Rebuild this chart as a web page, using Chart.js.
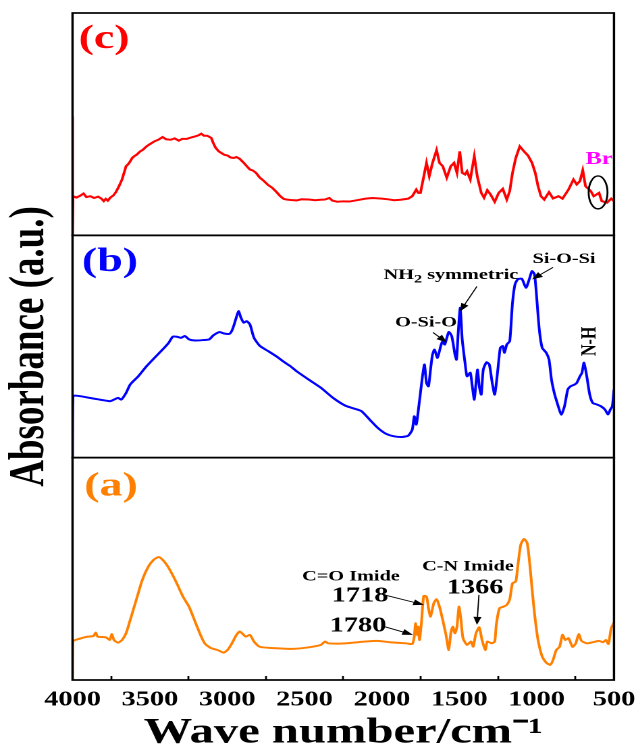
<!DOCTYPE html>
<html>
<head>
<meta charset="utf-8">
<title>FTIR spectra</title>
<script src="https://cdn.jsdelivr.net/npm/chart.js@4.4.1/dist/chart.umd.min.js"></script>
<style>
  html, body { margin: 0; padding: 0; background: #fff; }
  /* the source figure is stretched sideways, so the chart is drawn narrow and widened */
  #wrap { width: 471px; height: 750px; transform: scaleX(1.3503); transform-origin: 0 0; }
</style>
</head>
<body>
<div id="wrap"><canvas id="ftir" width="471" height="750"></canvas></div>
<script>
// tick labels on the wave number axis
var majorTicks = [4000, 3500, 3000, 2500, 2000, 1500, 1000, 500];
var panelLabels = ['(a)', '(b)', '(c)'];

// (a) - orange spectrum
var wnA = [4000, 3998, 3942, 3903, 3864, 3850, 3837, 3785, 3759, 3746, 3732, 3706, 3680, 3654, 3627, 3588,
  3549, 3509, 3475, 3444, 3418, 3391, 3365, 3326, 3286, 3247, 3208, 3168, 3142, 3103, 3063, 3024, 2998,
  2972, 2940, 2919, 2898, 2880, 2853, 2827, 2788, 2683, 2578, 2473, 2394, 2368, 2347, 2237, 2106, 2027,
  1948, 1843, 1804, 1791, 1783, 1772, 1765, 1757, 1744, 1730, 1712, 1699, 1686, 1665, 1647, 1628, 1607,
  1586, 1568, 1555, 1542, 1528, 1515, 1502, 1489, 1476, 1450, 1424, 1410, 1392, 1371, 1353, 1332, 1319,
  1292, 1271, 1261, 1240, 1214, 1193, 1174, 1156, 1135, 1122, 1103, 1082, 1061, 1043, 1025, 1009, 991,
  964, 938, 912, 894, 873, 852, 833, 815, 794, 768, 747, 728, 710, 676, 637, 597, 571, 552, 536, 518, 500];
var absA = [0, 17.3, 18.8, 19.5, 19.8, 21.3, 19.5, 19.2, 18.0, 20.7, 18.0, 16.8, 18.0, 21.0, 27.0, 36.0,
  45.0, 51.1, 54.1, 55.3, 54.1, 51.8, 48.8, 43.5, 37.5, 33.0, 26.3, 19.5, 16.2, 14.3, 13.5, 12.3, 13.5,
  16.2, 20.3, 21.8, 20.6, 19.5, 20.3, 17.3, 14.9, 14.3, 14.0, 14.7, 15.8, 17.3, 16.5, 16.5, 17.3, 17.6,
  17.0, 16.5, 16.2, 19.5, 25.5, 20.3, 24.0, 18.0, 26.3, 37.8, 37.5, 32.3, 28.5, 34.5, 36.3, 33.0, 27.0,
  20.3, 13.5, 21.0, 24.0, 21.0, 24.0, 33.0, 27.0, 18.8, 15.8, 17.3, 15.0, 21.0, 23.7, 18.0, 13.5, 17.3,
  16.5, 17.3, 24.8, 32.3, 33.0, 33.8, 36.3, 43.5, 44.3, 51.1, 60.8, 63.4, 61.6, 51.1, 37.5, 27.0, 18.0,
  10.5, 7.8, 6.8, 9.0, 13.5, 14.9, 20.3, 18.0, 18.8, 14.9, 16.5, 20.6, 17.6, 16.5, 17.0, 17.6, 17.0, 18.0, 16.2, 23.3, 25.8];

// (b) - blue spectrum
var wnB = [4000, 3997, 3890, 3759, 3732, 3706, 3685, 3654, 3627, 3575, 3522, 3470, 3418, 3378, 3352, 3326,
  3299, 3273, 3247, 3208, 3155, 3116, 3090, 3050, 3024, 2985, 2966, 2945, 2927, 2911, 2893, 2874, 2853,
  2827, 2788, 2735, 2683, 2630, 2591, 2552, 2473, 2394, 2316, 2237, 2171, 2132, 2079, 2027, 1975, 1922,
  1870, 1830, 1804, 1791, 1778, 1759, 1738, 1725, 1712, 1699, 1686, 1673, 1660, 1641, 1620, 1607, 1594,
  1568, 1549, 1528, 1518, 1507, 1494, 1481, 1463, 1450, 1429, 1416, 1403, 1392, 1382, 1371, 1358, 1345,
  1324, 1306, 1287, 1271, 1253, 1235, 1219, 1208, 1193, 1174, 1156, 1140, 1122, 1096, 1069, 1048, 1030,
  1014, 1004, 983, 964, 938, 920, 904, 886, 867, 841, 820, 799, 781, 755, 741, 720, 707, 694, 676, 657,
  637, 610, 584, 558, 539, 524, 511, 500];
var absB = [0, 27.6, 26.9, 25.4, 26.1, 26.9, 26.1, 29.1, 32.9, 36.6, 41.1, 44.9, 48.6, 51.7, 54.4, 54.4,
  53.9, 54.7, 53.2, 52.7, 52.9, 53.2, 55.0, 56.5, 55.9, 55.7, 57.7, 62.2, 65.9, 62.9, 60.7, 61.4, 59.9,
  53.9, 50.2, 47.9, 45.6, 42.9, 41.1, 38.9, 35.1, 31.4, 26.9, 23.4, 21.9, 20.9, 17.1, 13.4, 10.8, 9.6,
  9.3, 9.9, 12.6, 18.6, 14.9, 24.6, 36.6, 41.9, 33.6, 32.1, 39.6, 46.4, 48.6, 44.9, 50.2, 52.4, 50.9,
  56.5, 54.7, 46.4, 44.1, 56.2, 67.4, 53.2, 42.7, 36.6, 38.2, 32.1, 26.1, 33.6, 39.6, 32.1, 28.4, 39.6,
  42.9, 41.9, 33.6, 28.4, 38.2, 49.4, 50.2, 47.2, 50.9, 52.4, 69.7, 77.9, 80.2, 80.5, 76.4, 80.2, 83.9,
  82.4, 75.7, 57.7, 49.4, 47.2, 44.1, 35.1, 29.1, 24.6, 19.4, 23.1, 30.6, 32.1, 32.9, 33.6, 36.6, 38.2, 42.7, 36.6, 28.4,
  24.6, 23.9, 23.1, 21.6, 19.4, 21.6, 23.1, 30.6];

// (c) - red spectrum
var wnC = [4000, 4000, 3997, 3975, 3950, 3929, 3910, 3885, 3860, 3835, 3815, 3798, 3785, 3772, 3755, 3735,
  3719, 3700, 3680, 3665, 3654, 3640, 3627, 3614, 3601, 3585, 3562, 3545, 3522, 3500, 3470, 3445, 3418,
  3395, 3365, 3340, 3313, 3290, 3260, 3235, 3208, 3185, 3168, 3150, 3129, 3103, 3090, 3076, 3055, 3037,
  3018, 2998, 2978, 2958, 2940, 2919, 2893, 2870, 2853, 2835, 2814, 2790, 2762, 2735, 2709, 2683, 2657,
  2635, 2617, 2590, 2552, 2520, 2473, 2430, 2400, 2368, 2340, 2320, 2289, 2250, 2211, 2160, 2106, 2060,
  2001, 1960, 1922, 1880, 1830, 1804, 1778, 1765, 1751, 1725, 1712, 1694, 1673, 1647, 1628, 1607, 1581,
  1555, 1534, 1515, 1497, 1481, 1463, 1450, 1429, 1403, 1384, 1358, 1340, 1319, 1298, 1271, 1245, 1219,
  1193, 1174, 1156, 1135, 1109, 1082, 1056, 1030, 1009, 991, 972, 951, 920, 894, 859, 833, 794, 762, 741,
  720, 702, 684, 650, 631, 597, 579, 545, 518, 500];
var absC = [53.4, 0, 17.6, 17.0, 17.8, 18.8, 17.2, 17.6, 16.8, 17.4, 16.6, 15.4, 16.4, 15.6, 17.0, 18.0,
  19.5, 22.0, 25.1, 28.5, 31.1, 32.0, 33.3, 34.8, 35.6, 36.3, 37.8, 38.5, 40.0, 41.0, 42.3, 43.0, 44.2,
  43.2, 43.0, 43.6, 42.6, 43.4, 43.4, 44.0, 44.5, 45.0, 45.7, 44.8, 44.8, 43.8, 41.5, 39.5, 37.8, 37.0,
  36.2, 35.9, 35.0, 34.8, 35.2, 34.4, 32.6, 30.8, 29.6, 29.2, 28.1, 26.0, 24.4, 22.6, 21.4, 19.6, 17.6,
  16.4, 16.1, 15.9, 15.7, 16.2, 16.1, 15.8, 16.0, 16.1, 16.8, 15.6, 15.1, 15.3, 15.2, 15.8, 16.5, 16.8,
  16.5, 16.2, 15.8, 16.0, 16.5, 17.6, 20.6, 19.1, 19.1, 28.1, 32.6, 26.6, 32.6, 38.3, 32.6, 31.1, 25.9,
  31.1, 32.6, 28.1, 37.8, 28.1, 27.4, 28.8, 25.1, 35.6, 26.6, 19.1, 16.9, 20.3, 18.4, 15.1, 19.1, 20.9,
  16.1, 19.9, 28.1, 34.8, 40.0, 37.8, 35.9, 32.6, 28.1, 22.1, 17.6, 16.1, 19.4, 16.6, 17.6, 16.5, 20.6, 25.1, 22.9,
  24.4, 29.3, 22.1, 19.9, 17.6, 19.1, 15.4, 14.7, 16.5, 15.4];

// peak labels, placed in data coordinates of each panel
var notes = [
  { axis: 'yB', wn: 1715, v: 60.8, text: 'O-Si-O' },
  { axis: 'yB', wn: 1554, v: 82.0, text: 'NH|2| symmetric' },
  { axis: 'yB', wn: 823, v: 89.2, text: 'Si-O-Si' },
  { axis: 'yB', wn: 655, v: 52.3, text: 'N-H', rotate: true },
  { axis: 'yA', wn: 2200, v: 46.4, text: 'C=O Imide' },
  { axis: 'yA', wn: 2142, v: 37.8, text: '1718', big: true },
  { axis: 'yA', wn: 2155, v: 24.3, text: '1780', big: true },
  { axis: 'yA', wn: 1444, v: 50.9, text: 'C-N Imide' },
  { axis: 'yA', wn: 1398, v: 41.4, text: '1366', big: true }
];
var arrows = [
  { axis: 'yB', from: [1670, 56.3], to: [1580, 51.8] },
  { axis: 'yB', from: [1386, 77.0], to: [1495, 65.8] },
  { axis: 'yB', from: [894, 85.6], to: [1030, 80.2] },
  { axis: 'yA', from: [1987, 38.3], to: [1728, 33.8] },
  { axis: 'yA', from: [2000, 24.3], to: [1799, 20.3] },
  { axis: 'yA', from: [1373, 38.3], to: [1386, 24.8] }
];

var stretch = 636 / 471;
var serif = '"Liberation Serif", "Times New Roman", serif';
var colors = { a: '#ff8000', b: '#0000ff', c: '#ff0000' };

function pts(wn, ab) {
  return wn.map(function (w, i) { return { x: w, y: ab[i] }; });
}

function panelAxis(extra) {
  var o = {
    type: 'linear', position: 'left', stack: 'ftir', stackWeight: 1, min: 0, max: 100,
    ticks: { display: false }, grid: { display: false }, border: { display: false },
    afterFit: function (s) { s.width = 72.5 / stretch; }
  };
  for (var k in extra) o[k] = extra[k];
  return o;
}

function drawText(c, text, x, y) {
  // "|2|" marks a subscript
  var parts = text.split('|');
  var base = c.font, total = 0, widths = [];
  parts.forEach(function (p, i) {
    c.font = i % 2 ? base.replace(/\d+px/, '12px') : base;
    widths.push(c.measureText(p).width);
    total += widths[i];
  });
  var cx = x - total / 2;
  c.textAlign = 'left';
  parts.forEach(function (p, i) {
    c.font = i % 2 ? base.replace(/\d+px/, '12px') : base;
    c.fillText(p, cx, i % 2 ? y + 4 : y);
    cx += widths[i];
  });
  c.font = base;
}

var framePlugin = {
  id: 'frame',
  afterDraw: function (chart) {
    var c = chart.ctx, area = chart.chartArea, x = chart.scales.x;
    var ids = ['yA', 'yB', 'yC'];
    c.save();

    // panel boxes
    c.strokeStyle = '#000';
    c.lineWidth = 1.7;
    ids.forEach(function (id) {
      var s = chart.scales[id];
      c.strokeRect(area.left, s.top, area.right - area.left, s.bottom - s.top);
    });

    // (a) (b) (c)
    c.font = 'bold 34px ' + serif;
    c.textAlign = 'center';
    c.textBaseline = 'middle';
    var labelPos = [[3751, 86.9], [3758, 87.8], [3796, 88.3]];
    [colors.a, colors.b, colors.c].forEach(function (col, i) {
      c.fillStyle = col;
      c.fillText(panelLabels[i], x.getPixelForValue(labelPos[i][0]), chart.scales[ids[i]].getPixelForValue(labelPos[i][1]));
    });

    // peak labels
    c.fillStyle = '#000';
    notes.forEach(function (n) {
      var px = x.getPixelForValue(n.wn), py = chart.scales[n.axis].getPixelForValue(n.v);
      if (n.rotate) {
        c.save();
        c.font = 'bold 16px ' + serif;
        c.translate(px, py);
        c.rotate(-Math.PI / 2);
        c.textAlign = 'center';
        c.fillText(n.text, 0, 0);
        c.restore();
        return;
      }
      c.font = (n.big ? 'bold 21px ' : 'bold 15px ') + serif;
      drawText(c, n.text, px, py);
    });

    // arrows
    c.strokeStyle = '#000';
    c.lineWidth = 0.9;
    arrows.forEach(function (a) {
      var y = chart.scales[a.axis];
      var x1 = x.getPixelForValue(a.from[0]), y1 = y.getPixelForValue(a.from[1]);
      var x2 = x.getPixelForValue(a.to[0]), y2 = y.getPixelForValue(a.to[1]);
      var ang = Math.atan2(y2 - y1, x2 - x1);
      c.beginPath();
      c.moveTo(x1, y1);
      c.lineTo(x2 - 5 * Math.cos(ang), y2 - 5 * Math.sin(ang));
      c.stroke();
      c.beginPath();
      c.moveTo(x2, y2);
      c.lineTo(x2 - 8 * Math.cos(ang) + 3 * Math.sin(ang), y2 - 8 * Math.sin(ang) - 3 * Math.cos(ang));
      c.lineTo(x2 - 8 * Math.cos(ang) - 3 * Math.sin(ang), y2 - 8 * Math.sin(ang) + 3 * Math.cos(ang));
      c.closePath();
      c.fill();
    });

    // Br mark in panel (c)
    var yc = chart.scales.yC;
    c.fillStyle = '#ff00ff';
    c.font = 'bold 18px ' + serif;
    c.textAlign = 'center';
    c.fillText('Br', x.getPixelForValue(597), yc.getPixelForValue(34.1));
    var ex = x.getPixelForValue(603), ey = yc.getPixelForValue(19.3);
    c.strokeStyle = '#000';
    c.lineWidth = 1.4;
    c.beginPath();
    c.ellipse(ex, ey, Math.abs(x.getPixelForValue(542) - ex), Math.abs(yc.getPixelForValue(26.7) - ey), 0, 0, 2 * Math.PI);
    c.stroke();

    c.restore();
  }
};

var chart = new Chart(document.getElementById('ftir'), {
  type: 'line',
  data: {
    datasets: [
      { label: 'a', data: pts(wnA, absA), yAxisID: 'yA', borderColor: colors.a, borderWidth: 2, pointRadius: 0, tension: 0.2 },
      { label: 'b', data: pts(wnB, absB), yAxisID: 'yB', borderColor: colors.b, borderWidth: 2, pointRadius: 0, tension: 0.2 },
      { label: 'c', data: pts(wnC, absC), yAxisID: 'yC', borderColor: colors.c, borderWidth: 2, pointRadius: 0, tension: 0 }
    ]
  },
  options: {
    responsive: false,
    devicePixelRatio: 2,
    animation: false,
    layout: { padding: { top: 13, right: 636 / stretch - 614 / stretch, left: 0, bottom: 0 } },
    plugins: { legend: { display: false }, tooltip: { enabled: false } },
    scales: {
      x: {
        type: 'linear', reverse: true, min: 500, max: 4000,
        ticks: {
          stepSize: 250, autoSkip: false, maxRotation: 0, padding: 11.4, color: '#000',
          font: { family: serif, size: 21, weight: 'bold' },
          callback: function (v) { return majorTicks.indexOf(v) >= 0 ? String(v) : ''; }
        },
        grid: {
          drawOnChartArea: false, tickLength: -4, tickWidth: 1.4,
          tickColor: function (ctx) {
            return ctx.tick && majorTicks.indexOf(ctx.tick.value) >= 0 ? 'rgba(0,0,0,0)' : '#000';
          }
        },
        border: { display: false },
        title: {
          display: true, text: 'Wave number/cm\u207B\u00B9', color: '#000',
          font: { family: serif, size: 36, weight: 'bold', lineHeight: 1 },
          padding: { top: 0, bottom: -1 }
        },
        afterFit: function (s) {
          s.height = 70;
          // edge labels already fit inside the margins
          s.paddingLeft = 0;
          s.paddingRight = 0;
        }
      },
      yA: panelAxis({}),
      yB: panelAxis({
        title: {
          display: true, text: 'Absorbance (a.u.)', color: '#000',
          font: { family: serif, size: 37, weight: 'bold', lineHeight: 1 },
          padding: { top: 4, bottom: 0 }
        }
      }),
      yC: panelAxis({})
    }
  },
  plugins: [framePlugin]
});
</script>
</body>
</html>
